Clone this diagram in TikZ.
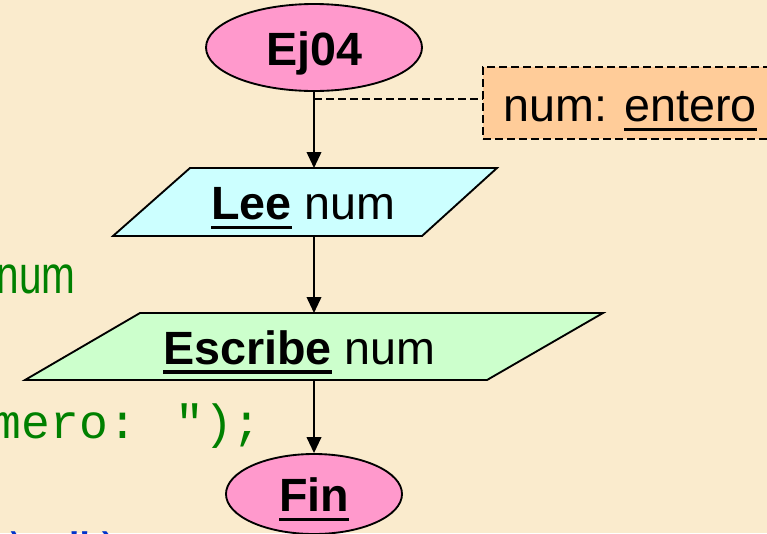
\documentclass[tikz,border=0pt]{standalone}
\usepackage{fontspec}
\usepackage{graphicx}
\setmainfont{Liberation Sans}
\newfontfamily\codefont{Liberation Mono}
\usetikzlibrary{shapes.geometric,arrows.meta}
\definecolor{bg}{HTML}{FAEBCD}
\definecolor{termfill}{HTML}{FF99CC}
\definecolor{leefill}{HTML}{CCFFFF}
\definecolor{escfill}{HTML}{CCFFCC}
\definecolor{notefill}{HTML}{FFCC99}
\definecolor{codegreen}{HTML}{008000}
\definecolor{codeblue}{HTML}{0033CC}
\newcommand\ulx[1]{\setbox0=\hbox{#1}\rlap{\rule[-0.2em]{\wd0}{0.07em}}\box0\relax}
\begin{document}
\begin{tikzpicture}[x=0.75pt,y=-0.75pt,
  lbl/.style={font=\fontsize{35}{42}\selectfont, text height=26.6pt, text depth=0pt, inner sep=0pt},
  term/.style={lbl, ellipse, draw=black, line width=1.4pt, fill=termfill},
  iobox/.style={draw=black, line width=1.4pt, line join=miter},
  note/.style={lbl, rectangle, draw=black, dash pattern=on 6pt off 3pt, line width=1.1pt, fill=notefill},
  flow/.style={line width=1.3pt, -{Triangle[length=12pt,width=11pt]}},
  code/.style={inner sep=0pt, font=\codefont\fontsize{36}{43}\selectfont},
]
\fill[bg] (0,0) rectangle (767,533);
\useasboundingbox (0,0) rectangle (767,533);

% terminals and note
\node[term, minimum width=162pt, minimum height=65.25pt] (ej) at (314,47.5) {\bfseries Ej04};
\node[note, minimum width=220.5pt, minimum height=54pt, text height=28pt] (nt) at (630,103) {num: \ulx{entero}};
\node[term, minimum width=132pt, minimum height=60pt] (fin) at (314,494) {\ulx{\bfseries Fin}};

% input / output parallelograms
\coordinate (leeTL) at (190,168); \coordinate (leeTR) at (497,168);
\coordinate (leeBR) at (422,236); \coordinate (leeBL) at (113,236);
\draw[iobox, fill=leefill] (leeTL) -- (leeTR) -- (leeBR) -- (leeBL) -- cycle;
\node[lbl] (lee) at (303.5,202) {\ulx{\bfseries Lee} num};

\coordinate (escTL) at (140,313); \coordinate (escTR) at (603,313);
\coordinate (escBR) at (487,380); \coordinate (escBL) at (25,380);
\draw[iobox, fill=escfill] (escTL) -- (escTR) -- (escBR) -- (escBL) -- cycle;
\node[lbl] (esc) at (299.5,346.5) {\ulx{\bfseries Escribe} num};

% background code fragments
\node[anchor=base east, inner sep=0pt, text=codegreen, font=\fontsize{40}{48}\selectfont] (g1) at (76,293) {\scalebox{0.76}[1]{num}};
\node[code, anchor=base east, text=codegreen] (g2) at (262,438) {numero: ");};
\node[code, anchor=base west, text=codeblue] (b1) at (8,566) {\textbackslash n")};

% connectors
\coordinate (tap) at ([yshift=-5.25pt]ej.south);
\draw[flow] (ej.south) -- (ej.south |- leeTL);
\draw[flow] (ej.south |- leeBL) -- (ej.south |- escTL);
\draw[flow] (ej.south |- escBL) -- (fin.north);
\draw[line width=1.1pt, dash pattern=on 6pt off 3pt] (tap) -- (tap -| nt.west);
\end{tikzpicture}
\end{document}
